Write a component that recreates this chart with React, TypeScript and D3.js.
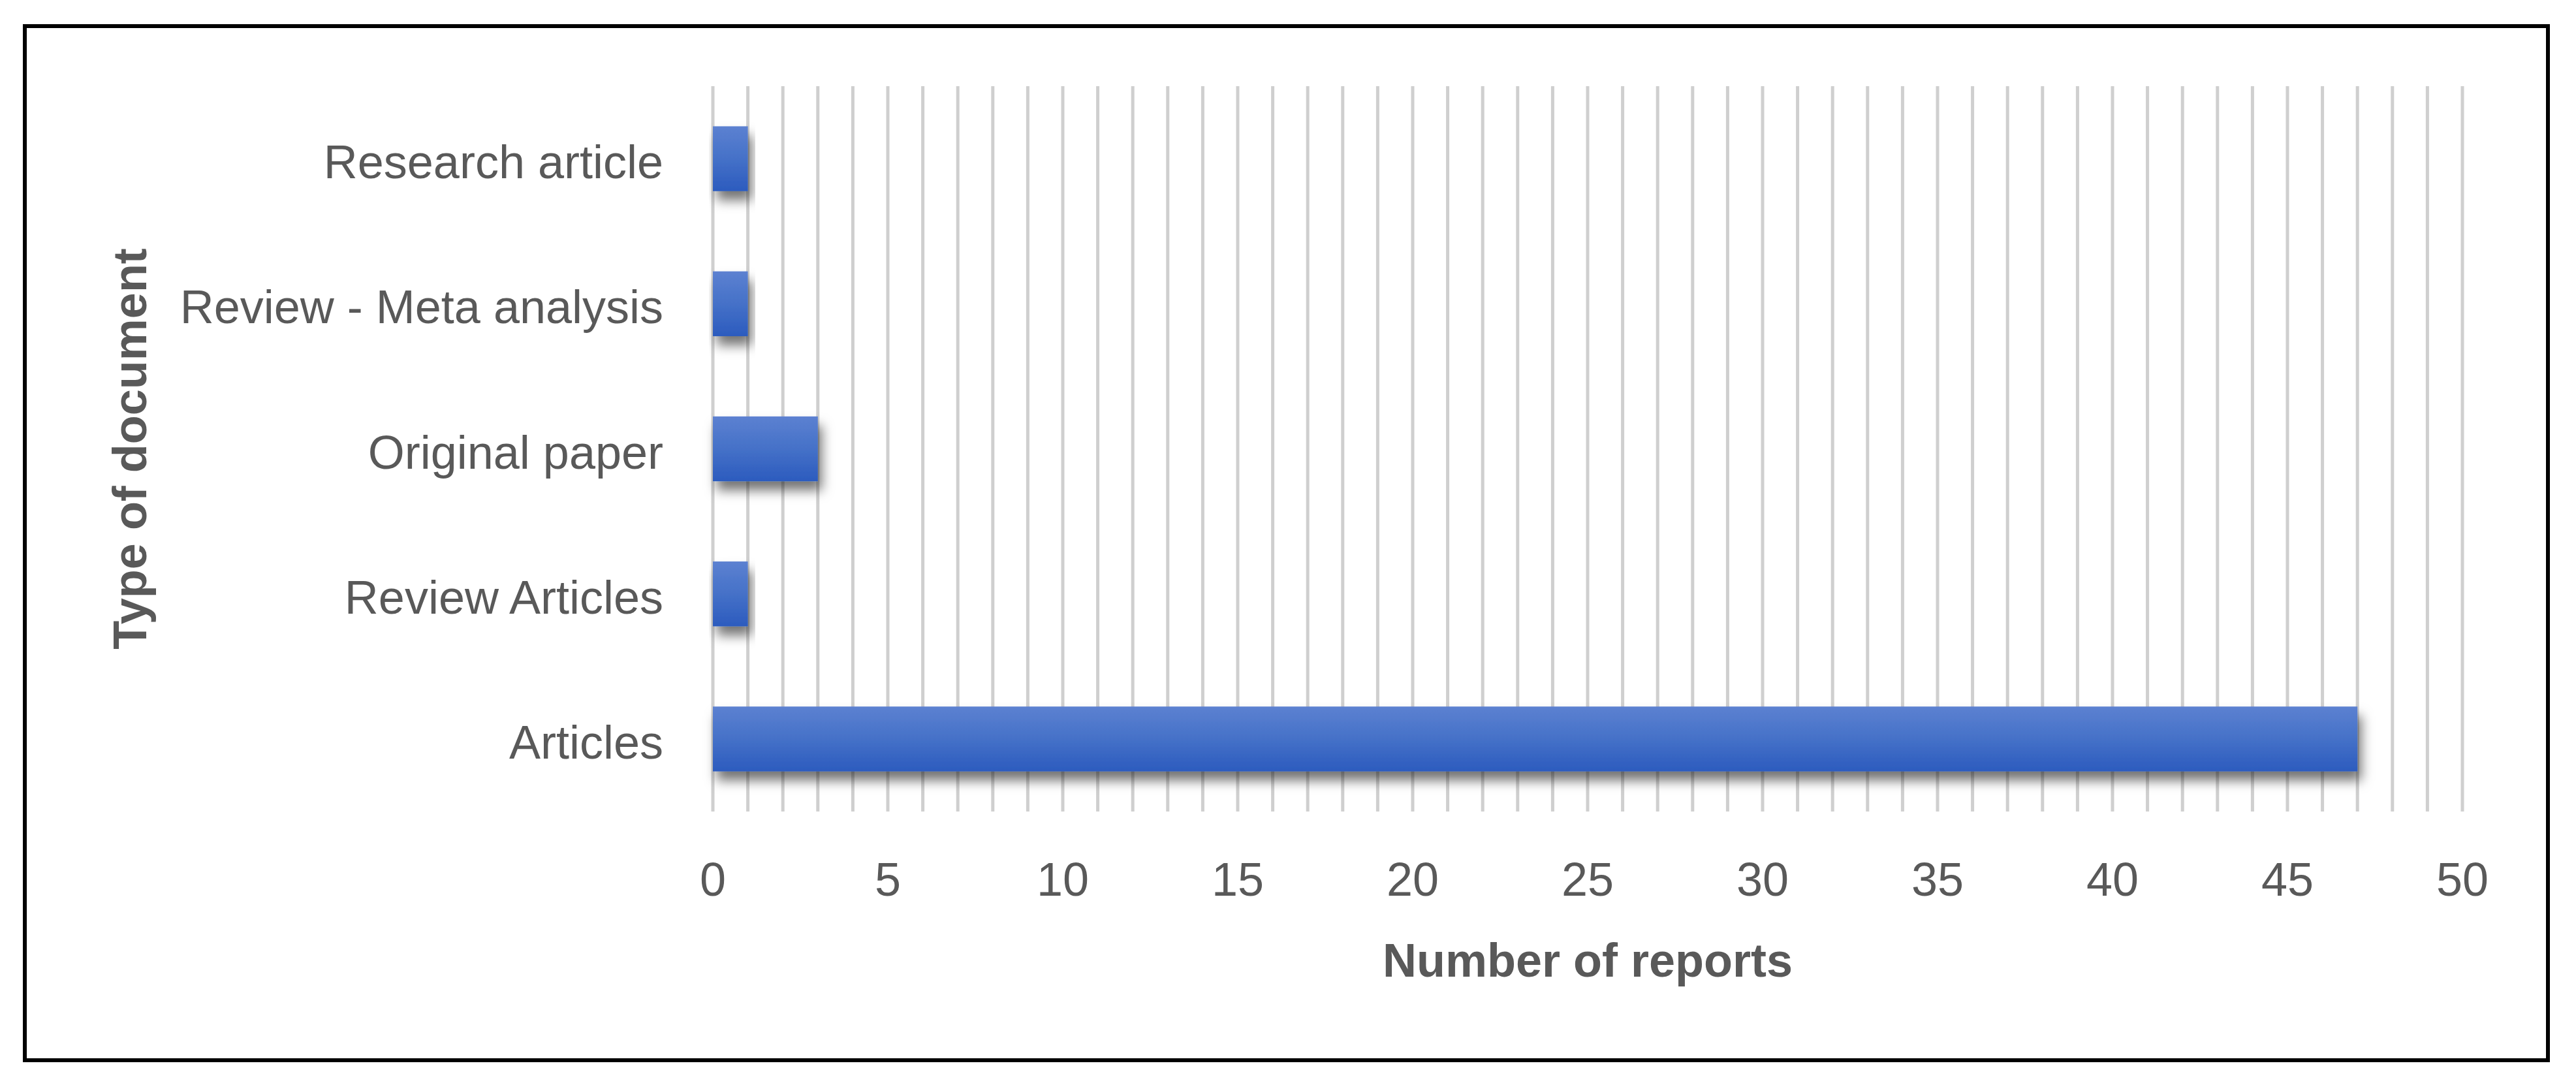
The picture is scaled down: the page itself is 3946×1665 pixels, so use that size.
import { useEffect, useRef } from 'react';
import * as d3 from 'd3';

const categories = ['Research article', 'Review - Meta analysis', 'Original paper', 'Review Articles', 'Articles'];
const reportCounts = [1, 1, 3, 1, 47];
const xTickValues = [0, 5, 10, 15, 20, 25, 30, 35, 40, 45, 50];
const xTitle = 'Number of reports';
const yTitle = 'Type of document';

const W = 3946;
const H = 1665;

export default function App() {
  const svgRef = useRef<SVGSVGElement>(null);

  useEffect(() => {
    if (!svgRef.current) return;
    const svg = d3.select(svgRef.current);
    svg.selectAll('*').remove();

    const font = "'Liberation Sans', Arial, sans-serif";
    const textColor = '#595959';
    const plot = { left: 1092, right: 3772, top: 132, bottom: 1243 };

    const x = d3.scaleLinear().domain([0, 50]).range([plot.left, plot.right]);
    const y = d3
      .scaleBand<string>()
      .domain(categories)
      .range([plot.top, plot.bottom])
      .paddingInner(0.553)
      .paddingOuter(0.2765);

    const defs = svg.append('defs');
    const grad = defs
      .append('linearGradient')
      .attr('id', 'barGrad')
      .attr('x1', 0)
      .attr('y1', 0)
      .attr('x2', 0)
      .attr('y2', 1);
    grad.append('stop').attr('offset', '0%').attr('stop-color', '#5c81d1');
    grad.append('stop').attr('offset', '50%').attr('stop-color', '#4571c8');
    grad.append('stop').attr('offset', '100%').attr('stop-color', '#2c5bbe');

    const shadow = defs
      .append('filter')
      .attr('id', 'barShadow')
      .attr('x', '-10%')
      .attr('y', '-30%')
      .attr('width', '130%')
      .attr('height', '190%');
    shadow
      .append('feDropShadow')
      .attr('dx', 6)
      .attr('dy', 14)
      .attr('stdDeviation', 9)
      .attr('flood-color', '#000')
      .attr('flood-opacity', 0.55);

    // page background + frame
    svg.append('rect').attr('width', W).attr('height', H).attr('fill', '#fff');
    svg
      .append('rect')
      .attr('x', 38)
      .attr('y', 40)
      .attr('width', 3865)
      .attr('height', 1584)
      .attr('fill', 'none')
      .attr('stroke', '#000')
      .attr('stroke-width', 6);

    // vertical gridlines every unit
    svg
      .append('g')
      .selectAll('line')
      .data(d3.range(0, 51))
      .enter()
      .append('line')
      .attr('x1', (d) => x(d))
      .attr('x2', (d) => x(d))
      .attr('y1', plot.top)
      .attr('y2', plot.bottom)
      .attr('stroke', '#cfcfcf')
      .attr('stroke-width', 5);

    // bars
    svg
      .append('g')
      .selectAll('rect')
      .data(categories)
      .enter()
      .append('rect')
      .attr('x', x(0))
      .attr('y', (d) => y(d) || 0)
      .attr('width', (d, i) => x(reportCounts[i]) - x(0))
      .attr('height', y.bandwidth())
      .attr('fill', 'url(#barGrad)')
      .attr('filter', 'url(#barShadow)');

    // category labels
    svg
      .append('g')
      .selectAll('text')
      .data(categories)
      .enter()
      .append('text')
      .attr('x', 1016)
      .attr('y', (d) => (y(d) || 0) + y.bandwidth() / 2 + 30)
      .attr('text-anchor', 'end')
      .style('font-family', font)
      .style('font-size', '72px')
      .style('fill', textColor)
      .text((d) => d);

    // x tick labels
    svg
      .append('g')
      .selectAll('text')
      .data(xTickValues)
      .enter()
      .append('text')
      .attr('x', (d) => x(d))
      .attr('y', 1372)
      .attr('text-anchor', 'middle')
      .style('font-family', font)
      .style('font-size', '72px')
      .style('fill', textColor)
      .text((d) => String(d));

    // axis titles
    svg
      .append('text')
      .attr('x', (plot.left + plot.right) / 2)
      .attr('y', 1496)
      .attr('text-anchor', 'middle')
      .style('font-family', font)
      .style('font-size', '72px')
      .style('font-weight', 'bold')
      .style('fill', textColor)
      .text(xTitle);

    svg
      .append('text')
      .attr('transform', `translate(224,${(plot.top + plot.bottom) / 2}) rotate(-90)`)
      .attr('text-anchor', 'middle')
      .style('font-family', font)
      .style('font-size', '72px')
      .style('font-weight', 'bold')
      .style('fill', textColor)
      .text(yTitle);
  }, []);

  return (
    <div style={{ position: 'absolute', left: 0, top: 0 }}>
      <svg ref={svgRef} width={W} height={H} style={{ display: 'block' }} />
    </div>
  );
}
